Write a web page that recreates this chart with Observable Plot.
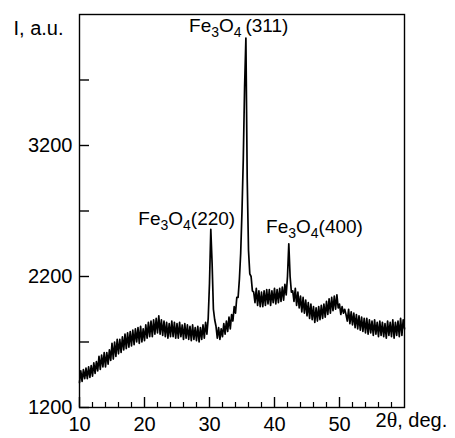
<!DOCTYPE html>
<html><head><meta charset="utf-8">
<script src="https://cdn.jsdelivr.net/npm/d3@7"></script>
<script src="https://cdn.jsdelivr.net/npm/@observablehq/plot@0.6"></script>
<style>body{margin:0;background:#fff}</style>
</head><body><div id="chart"></div>
<script>
const twoTheta = [
10,10.2,10.4,10.6,10.8,11,11.2,11.4,11.6,11.8,12,12.2,12.4,12.6,12.8,13,13.2,13.4,13.6,13.8,
14,14.2,14.4,14.6,14.8,15,15.2,15.4,15.6,15.8,16,16.2,16.4,16.6,16.8,17,17.2,17.4,17.6,17.8,
18,18.2,18.4,18.6,18.8,19,19.2,19.4,19.6,19.8,20,20.2,20.4,20.6,20.8,21,21.2,21.4,21.6,21.8,
22,22.2,22.4,22.6,22.8,23,23.2,23.4,23.6,23.8,24,24.2,24.4,24.6,24.8,25,25.2,25.4,25.6,25.8,
26,26.2,26.4,26.6,26.8,27,27.2,27.4,27.6,27.8,28,28.2,28.4,28.6,28.8,29,29.2,29.4,29.6,29.8,
30,30.2,30.4,30.6,30.8,31,31.2,31.4,31.6,31.8,32,32.2,32.4,32.6,32.8,33,33.2,33.4,33.6,33.8,
34,34.2,34.4,34.6,34.8,35,35.2,35.4,35.6,35.8,36,36.2,36.4,36.6,36.8,37,37.2,37.4,37.6,37.8,
38,38.2,38.4,38.6,38.8,39,39.2,39.4,39.6,39.8,40,40.2,40.4,40.6,40.8,41,41.2,41.4,41.6,41.8,
42,42.2,42.4,42.6,42.8,43,43.2,43.4,43.6,43.8,44,44.2,44.4,44.6,44.8,45,45.2,45.4,45.6,45.8,
46,46.2,46.4,46.6,46.8,47,47.2,47.4,47.6,47.8,48,48.2,48.4,48.6,48.8,49,49.2,49.4,49.6,49.8,
50,50.2,50.4,50.6,50.8,51,51.2,51.4,51.6,51.8,52,52.2,52.4,52.6,52.8,53,53.2,53.4,53.6,53.8,
54,54.2,54.4,54.6,54.8,55,55.2,55.4,55.6,55.8,56,56.2,56.4,56.6,56.8,57,57.2,57.4,57.6,57.8,
58,58.2,58.4,58.6,58.8,59,59.2,59.4,59.6,59.8,60];
const intensity = [
1390,1480,1400,1490,1420, 1500,1420,1510,1430,1520, 1440,1540,1460,1550,1480, 1590,1490,1600,1510,1620,
1510,1620,1530,1640,1560, 1690,1570,1700,1590,1720, 1610,1720,1620,1740,1640, 1760,1650,1770,1660,1780,
1670,1790,1680,1800,1700, 1810,1690,1820,1700,1800, 1710,1830,1730,1850,1740, 1860,1740,1870,1760,1880,
1770,1900,1760,1870,1750, 1860,1740,1850,1730,1840, 1740,1860,1740,1850,1730, 1840,1730,1850,1740,1830,
1720,1840,1730,1830,1720, 1820,1710,1830,1720,1810, 1710,1820,1700,1810,1720, 1830,1730,1850,1760,1880,
2150,2560,2300,1950,1870, 1820,1730,1810,1720,1800, 1740,1840,1760,1860,1780, 1890,1800,1910,1860,1970,
1920,2040,2040,2180,2380, 2700,3100,3650,4020,2950, 2400,2220,2200,2090,2080, 2000,2110,1980,2090,1970,
2080,1970,2090,1980,2100, 1990,2100,1980,2090,2000, 2110,1990,2100,2000,2110, 2010,2120,2020,2140,2060,
2200,2450,2200,2080,2090, 2010,2110,1980,2080,1960, 2050,1930,2040,1920,2020, 1900,2000,1880,1990,1870,
1970,1850,1960,1860,1970, 1870,1980,1880,1990,1890, 2010,1910,2030,1920,2040, 1940,2050,1950,2060,1960,
1990,1910,1970,1920,1950, 1910,1860,1950,1840,1930, 1830,1920,1810,1910,1800, 1900,1790,1890,1780,1880,
1770,1880,1760,1870,1770, 1860,1750,1870,1760,1850, 1740,1860,1750,1850,1740, 1840,1730,1860,1750,1850,
1740,1870,1730,1850,1750, 1860,1740,1880,1750,1870, 1800];

const xTickValues = [10, 20, 30, 40, 50];
const xMinorTicks = [12,14,16,18,22,24,26,28,32,34,36,38,42,44,46,48,52,54,56,58];
const yTickValues = [1200, 2200, 3200];
const yMinorTicks = [1700, 2700, 3700];
const peakLabels = ["Fe3O4(220)", "Fe3O4\u2009(311)", "Fe3O4(400)"];
const peakLabelX = [26.5, 34.5, 46.15];
const peakLabelY = [2643, 4116, 2582];
const yAxisTitle = "I, a.u.";
const xAxisTitle = "2θ, deg.";

const data = twoTheta.map((t, i) => ({t, I: intensity[i]}));
const labels = peakLabels.map((s, i) => ({s, x: peakLabelX[i], y: peakLabelY[i]}));

const chart = Plot.plot({
  width: 455, height: 438,
  marginLeft: 79, marginTop: 14, marginRight: 51, marginBottom: 31,
  style: {fontFamily: '"Liberation Sans", Arial, sans-serif', fontSize: "20px", color: "#000", background: "#fff"},
  x: {domain: [10, 60]},
  y: {domain: [1200, 4200]},
  marks: [
    Plot.frame({stroke: "#000", strokeWidth: 1.4}),
    Plot.axisX(xTickValues, {tickSize: 0, tickPadding: 9, fontSize: 20, label: null, tickFormat: d => String(d)}),
    Plot.axisX(xTickValues, {tickSize: -10, tickFormat: () => "", label: null, strokeWidth: 1.4}),
    Plot.axisX(xMinorTicks, {tickSize: -5, tickFormat: () => "", label: null, strokeWidth: 1.2}),
    Plot.axisY(yTickValues, {tickSize: 0, tickPadding: 7, fontSize: 20, label: null, tickFormat: d => String(d)}),
    Plot.axisY(yTickValues.concat(yMinorTicks), {tickSize: -10, tickFormat: () => "", label: null, strokeWidth: 1.4}),
    Plot.line(data, {x: "t", y: "I", stroke: "#000", strokeWidth: 1.7}),
    Plot.text(labels, {x: "x", y: "y", text: "s", fontSize: 19, fill: "#000"}),
    Plot.text([yAxisTitle], {text: d => d, frameAnchor: "top-left", dx: -66, dy: 6, textAnchor: "start", fontSize: 20, fill: "#000"}),
    Plot.text([xAxisTitle], {text: d => d, frameAnchor: "bottom-right", dx: -29, dy: 19, textAnchor: "start", fontSize: 20, fill: "#000"})
  ]
});

d3.select(chart).selectAll("text").each(function () {
  const t = this.textContent;
  const sel = d3.select(this);
  if (t.startsWith("Fe3O4")) {
    sel.text("");
    const parts = [["Fe", 0], ["3", 5], ["O", -5], ["4", 5], [t.slice(5), -5]];
    parts.forEach(([s, dy]) => {
      const ts = sel.append("tspan").text(s);
      if (dy) ts.attr("dy", dy);
      if (dy > 0) ts.attr("font-size", "14px");
    });
  } else if (t === xAxisTitle) {
    sel.text("");
    sel.append("tspan").text("2");
    sel.append("tspan").text("θ").attr("font-family", '"Liberation Serif", "Times New Roman", serif').attr("font-size", "22px");
    sel.append("tspan").text(", deg.");
  }
});

document.getElementById("chart").append(chart);
</script>
</body></html>
